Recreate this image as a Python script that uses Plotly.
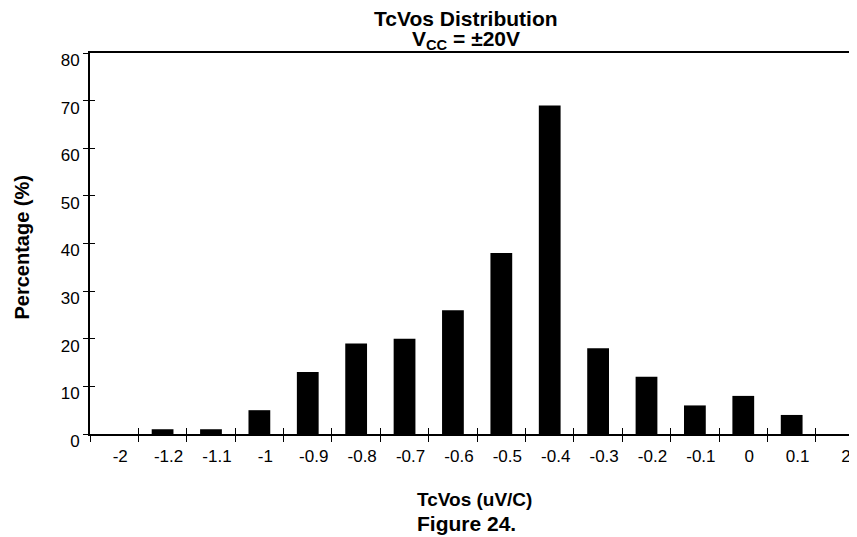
import plotly.graph_objects as go

### Data ###
bins = ['-2', '-1.2', '-1.1', '-1', '-0.9', '-0.8', '-0.7', '-0.6',
        '-0.5', '-0.4', '-0.3', '-0.2', '-0.1', '0', '0.1', '2']
pct = [0, 1, 1, 5, 13, 19, 20, 26, 38, 69, 18, 12, 6, 8, 4, 0]

FONT = 'Liberation Sans, Arial, sans-serif'

fig = go.Figure()
fig.add_trace(go.Bar(x=bins, y=pct, marker=dict(color='black', line=dict(width=0)),
                     showlegend=False))
# ghost trace so the overlay axes (inner half of the ticks) know the categories
fig.add_trace(go.Scatter(x=bins, y=pct, mode='none', xaxis='x2', yaxis='y2',
                         showlegend=False, hoverinfo='skip'))

axis_common = dict(showgrid=False, zeroline=False, tickcolor='black', tickwidth=1)

# page body has an 8px margin, so the figure is sized/offset to suit
fig.update_layout(
    width=849, height=529,
    margin=dict(l=82, r=0, t=45, b=103),
    paper_bgcolor='white', plot_bgcolor='white',
    font=dict(family=FONT, color='black', size=17),
    bargap=0.55,
    xaxis=dict(type='category', range=[-0.5, 15.35], showline=True, linewidth=2,
               linecolor='black', mirror=True, ticks='outside', ticklen=6,
               tickson='boundaries', ticklabelshift=6, ticklabelstandoff=6,
               tickfont=dict(size=17), **axis_common),
    xaxis2=dict(type='category', overlaying='x', matches='x', anchor='y', side='bottom',
                ticks='inside', ticklen=6, tickson='boundaries', showticklabels=False,
                showline=False, **axis_common),
    yaxis=dict(range=[0, 80], dtick=10, showline=True, linewidth=2, linecolor='black',
               ticks='outside', ticklen=5, ticklabelshift=7, tickfont=dict(size=17),
               **axis_common),
    yaxis2=dict(overlaying='y', matches='y', anchor='x', side='left', range=[0, 80],
                dtick=10, ticks='inside', ticklen=5, showticklabels=False,
                showline=False, **axis_common),
)

# Titles
fig.add_annotation(text='<b>TcVos Distribution</b>',
                   xref='paper', yref='paper', x=0.49, y=1.0906, xanchor='center',
                   yanchor='middle', showarrow=False, font=dict(size=21))
fig.add_annotation(text='<b>V<sub>CC</sub> = ±20V</b>',
                   xref='paper', yref='paper', x=0.49, y=1.034, xanchor='center',
                   yanchor='middle', showarrow=False, font=dict(size=21))
fig.add_annotation(text='<b>Percentage (%)</b>', textangle=-90,
                   xref='paper', yref='paper', x=-0.0887, y=0.492, xanchor='center',
                   yanchor='middle', showarrow=False, font=dict(size=20))
fig.add_annotation(text='<b>TcVos (uV/C)</b>',
                   xref='paper', yref='paper', x=0.4237, y=-0.173, xanchor='left',
                   yanchor='middle', showarrow=False, font=dict(size=19))
fig.add_annotation(text='<b>Figure 24.</b>',
                   xref='paper', yref='paper', x=0.4237, y=-0.236, xanchor='left',
                   yanchor='middle', showarrow=False, font=dict(size=21))

fig.write_html("out.html")
